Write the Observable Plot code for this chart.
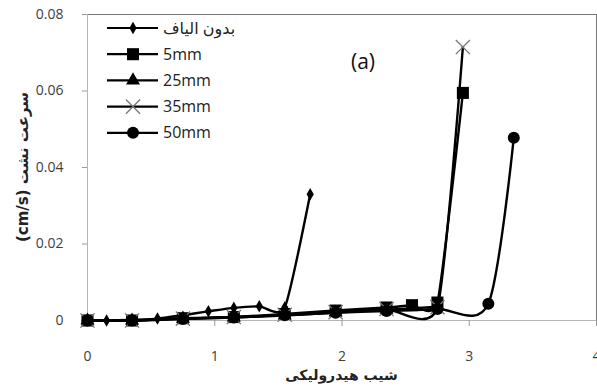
<!DOCTYPE html>
<html><head><meta charset="utf-8">
<script src="https://cdn.jsdelivr.net/npm/d3@7"></script>
<script src="https://cdn.jsdelivr.net/npm/@observablehq/plot@0.6"></script>
<style>
body{margin:0;background:#fff;}
#wrap{position:relative;width:597px;height:390px;overflow:hidden;}
#wrap svg{position:absolute;left:0;top:0;}
</style></head><body><div id="wrap"></div>
<script>
// ---- data ----
const seriesNames = ["بدون الیاف", "5mm", "25mm", "35mm", "50mm"];
const xNoFiber = [0, 0.15, 0.55, 0.95, 1.15, 1.35, 1.55, 1.75];
const yNoFiber = [0, 0, 0.0005, 0.0024, 0.0033, 0.0037, 0.0034, 0.033];
const x5mm = [0, 0.35, 0.75, 1.15, 1.55, 1.95, 2.35, 2.55, 2.75, 2.95];
const y5mm = [0, 0, 0.0006, 0.0009, 0.0017, 0.0026, 0.0034, 0.004, 0.0047, 0.0595];
const x25mm = [0, 0.35, 0.75, 1.15, 1.55, 1.95, 2.35, 2.75];
const y25mm = [0, 0, 0.0005, 0.0008, 0.0013, 0.0021, 0.0028, 0.0036];
const x35mm = [0, 0.35, 0.75, 1.15, 1.55, 1.95, 2.35, 2.75, 2.95];
const y35mm = [0, 0, 0.0005, 0.0009, 0.0015, 0.0022, 0.003, 0.0035, 0.0715];
const x50mm = [0, 0.35, 0.75, 1.15, 1.55, 1.95, 2.35, 2.75, 3.15, 3.35];
const y50mm = [0, 0, 0.0004, 0.0008, 0.0014, 0.002, 0.0025, 0.003, 0.0044, 0.0478];
const xTicks = [0, 1, 2, 3, 4];
const yTicks = [0, 0.02, 0.04, 0.06, 0.08];
const xTitle = "شیب هیدرولیکی";
const yTitle = "سرعت نشت (cm/s)";
const panelLabel = "(a)";

const xs = [xNoFiber, x5mm, x25mm, x35mm, x50mm];
const ys = [yNoFiber, y5mm, y25mm, y35mm, y50mm];
const symbols = ["diamond", "square", "triangle", "times", "circle"];
const radii = [3.8, 6.8, 5.2, 6.5, 6];
const tensions = [0.4, 0.5, 0.4, 0.4, 0.15];

const seriesMarks = [];
seriesNames.forEach((name, i) => {
  const rows = xs[i].map((x, j) => ({series: name, x, y: ys[i][j]}));
  seriesMarks.push(Plot.line(rows, {x: "x", y: "y", stroke: "black", strokeWidth: 2.4, curve: "cardinal", tension: tensions[i]}));
  const isCross = symbols[i] === "times";
  seriesMarks.push(Plot.dot(rows, {
    x: "x", y: "y", symbol: () => symbols[i], r: radii[i],
    fill: isCross ? "none" : "black",
    stroke: isCross ? "#777" : "none",
    strokeWidth: isCross ? 1.3 : 0
  }));
});

const W = 597, H = 390, mL = 87, mR = 1, mT = 14, mB = 70;
const plot = Plot.plot({
  width: W, height: H, marginLeft: mL, marginRight: mR, marginTop: mT, marginBottom: mB,
  style: {fontFamily: "'Open Sans', sans-serif", fontSize: "14px", background: "white", color: "#404040"},
  x: {domain: [0, 4]},
  y: {domain: [0, 0.08]},
  marks: [
    Plot.frame({stroke: "#777"}),
    Plot.ruleX([0], {stroke: "#b5b5b5"}),
    Plot.ruleY([0], {stroke: "#b5b5b5"}),
    Plot.axisX({ticks: xTicks, tickSize: 6, tickPadding: 25, stroke: "#999", fill: "#404040", label: null, tickFormat: d => String(d)}),
    Plot.axisY({ticks: yTicks, tickSize: 5, tickPadding: 19, stroke: "#999", fill: "#404040", label: null, tickFormat: d => d === 0 ? "0" : d.toFixed(2)}),
    ...seriesMarks
  ]
});
const wrap = document.getElementById("wrap");
wrap.appendChild(plot);

// ---- overlay: titles, legend, panel label ----
const ov = d3.select(wrap).append("svg").attr("width", W).attr("height", H)
  .style("pointer-events", "none").style("font-family", "'Open Sans', 'DejaVu Sans', sans-serif");

ov.append("text").attr("x", (mL + W - mR) / 2).attr("y", 380)
  .attr("text-anchor", "middle").attr("font-size", 14).attr("font-weight", "bold").attr("fill", "#222")
  .attr("direction", "rtl")
  .attr("font-family", "'DejaVu Sans', sans-serif").text(xTitle);
ov.append("text").attr("transform", `translate(28,${(mT + H - mB) / 2}) rotate(-90)`)
  .attr("text-anchor", "middle").attr("font-size", 15).attr("font-weight", "bold").attr("fill", "#222")
  .attr("direction", "rtl").style("unicode-bidi", "embed")
  .attr("font-family", "'DejaVu Sans', sans-serif").text(yTitle);

ov.append("text").attr("x", 363).attr("y", 69).attr("text-anchor", "middle")
  .attr("font-size", 21).attr("fill", "#111").text(panelLabel);

const legY0 = 28, legStep = 26.2;
seriesNames.forEach((name, i) => {
  const y = legY0 + i * legStep;
  const g = ov.append("g");
  g.append("line").attr("x1", 107).attr("x2", 158).attr("y1", y).attr("y2", y).attr("stroke", "black").attr("stroke-width", 2.2);
  const sym = {diamond: d3.symbolDiamond, square: d3.symbolSquare, triangle: d3.symbolTriangle, times: d3.symbolTimes, circle: d3.symbolCircle}[symbols[i]];
  const isCross = symbols[i] === "times";
  g.append("path").attr("transform", `translate(133,${y})`)
    .attr("d", d3.symbol(sym, Math.PI * radii[i] * radii[i])())
    .attr("fill", isCross ? "none" : "black").attr("stroke", isCross ? "#777" : "none").attr("stroke-width", 1.3);
  g.append("text").attr("x", 163).attr("y", y).attr("dy", "0.35em").attr("font-size", 16).attr("fill", "#222").text(name);
});
</script></body></html>
